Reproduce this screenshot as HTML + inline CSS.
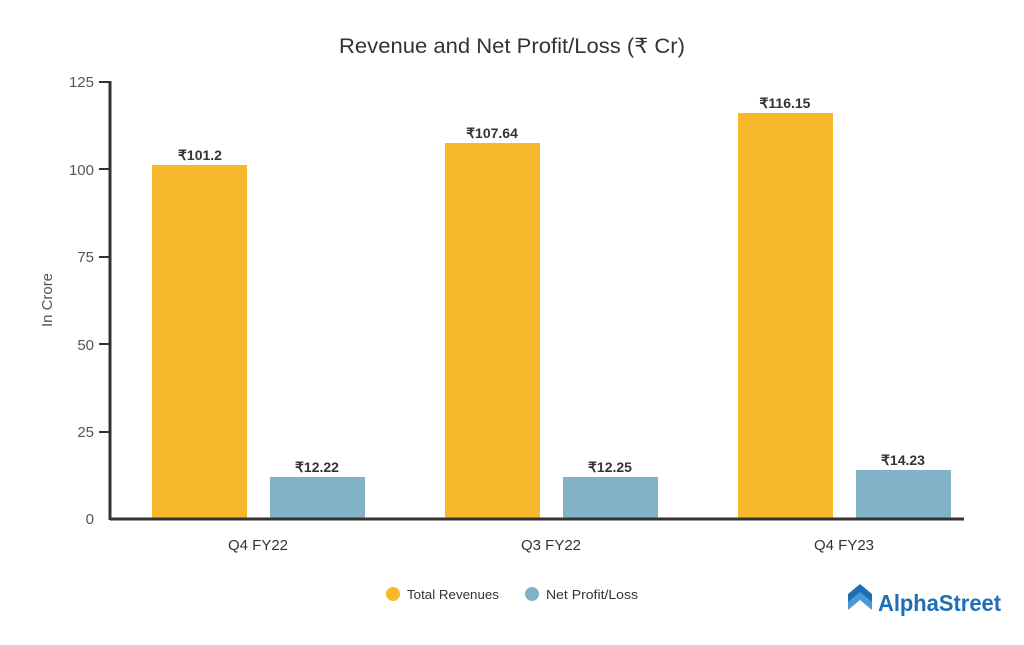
<!DOCTYPE html>
<html><head><meta charset="utf-8"><style>
html,body{margin:0;padding:0;background:#fff;}
</style></head><body>
<svg width="1024" height="640" viewBox="0 0 1024 640" xmlns="http://www.w3.org/2000/svg" font-family="Liberation Sans, sans-serif">
<rect width="1024" height="640" fill="#fff"/>
<text x="512" y="53" text-anchor="middle" font-size="21" fill="#333" textLength="346" lengthAdjust="spacingAndGlyphs">Revenue and Net Profit/Loss (₹ Cr)</text>
<g fill="#555" font-size="15" text-anchor="end">
<text x="94" y="87">125</text>
<text x="94" y="175">100</text>
<text x="94" y="262">75</text>
<text x="94" y="350">50</text>
<text x="94" y="437">25</text>
<text x="94" y="524">0</text>
</g>
<g stroke="#333" stroke-width="2">
<line x1="99" y1="82" x2="110" y2="82"/>
<line x1="99" y1="169" x2="110" y2="169"/>
<line x1="99" y1="257" x2="110" y2="257"/>
<line x1="99" y1="344" x2="110" y2="344"/>
<line x1="99" y1="432" x2="110" y2="432"/>
</g>
<line x1="110" y1="81" x2="110" y2="520" stroke="#333" stroke-width="3"/>
<text x="52" y="300" transform="rotate(-90 52 300)" text-anchor="middle" font-size="15" fill="#555" textLength="54" lengthAdjust="spacingAndGlyphs">In Crore</text>
<g fill="#F7B92B">
<rect x="152" y="165" width="95" height="354"/>
<rect x="445" y="143" width="95" height="376"/>
<rect x="738" y="113" width="95" height="406"/>
</g>
<g fill="#82B2C8">
<rect x="270" y="477" width="95" height="42"/>
<rect x="563" y="477" width="95" height="42"/>
<rect x="856" y="470" width="95" height="49"/>
</g>
<line x1="110" y1="519" x2="964" y2="519" stroke="#333" stroke-width="3"/>
<g font-size="14" font-weight="bold" fill="#333" text-anchor="middle">
<text x="200" y="160">₹101.2</text>
<text x="492" y="138">₹107.64</text>
<text x="785" y="108">₹116.15</text>
<text x="317" y="472">₹12.22</text>
<text x="610" y="472">₹12.25</text>
<text x="903" y="465">₹14.23</text>
</g>
<g font-size="15" fill="#333" text-anchor="middle">
<text x="258" y="550">Q4 FY22</text>
<text x="551" y="550">Q3 FY22</text>
<text x="844" y="550">Q4 FY23</text>
</g>
<circle cx="393" cy="594" r="7" fill="#F7B92B"/>
<text x="407" y="599" font-size="13" fill="#333" textLength="92" lengthAdjust="spacingAndGlyphs">Total Revenues</text>
<circle cx="532" cy="594" r="7" fill="#82B2C8"/>
<text x="546" y="599" font-size="13" fill="#333" textLength="92" lengthAdjust="spacingAndGlyphs">Net Profit/Loss</text>
<g transform="translate(848,592)">
<path d="M0,2 L12,-8 L24,2 L24,12 L12,2 L0,12 Z" fill="#1f6fb5"/>
<path d="M0,10 L12,0 L24,10 L24,18 L12,8 L0,18 Z" fill="#4a9ad8"/>
</g>
<text x="878" y="611" font-size="23" font-weight="bold" fill="#1f6fb5" textLength="123" lengthAdjust="spacingAndGlyphs">AlphaStreet</text>
</svg>
</body></html>
